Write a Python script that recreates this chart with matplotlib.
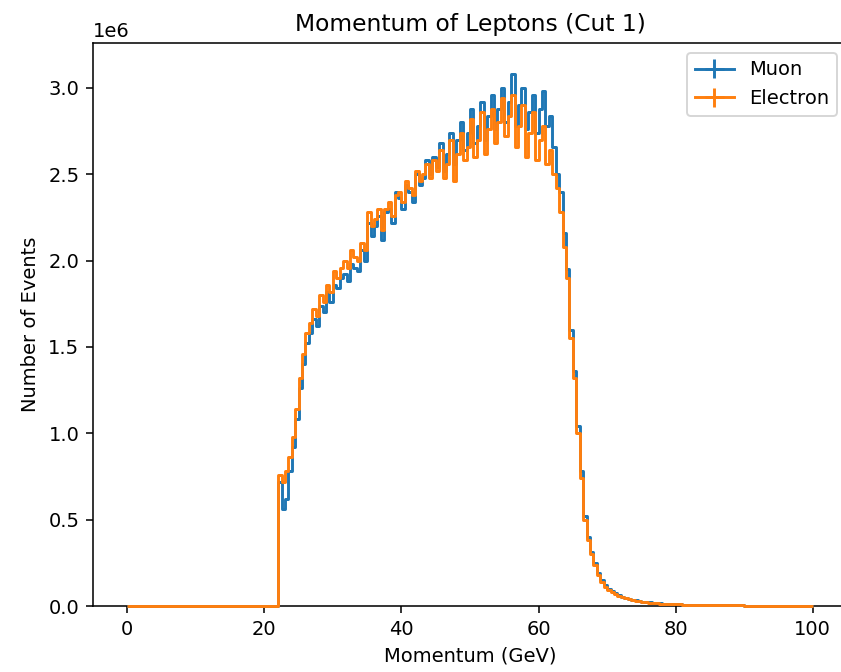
import numpy as np
import matplotlib
matplotlib.use("Agg")
import matplotlib.pyplot as plt

# Bin edges: 0..100 GeV in 0.5 GeV bins
bin_width = 0.5
edges = np.arange(0, 100 + bin_width / 2, bin_width)
centers = (edges[:-1] + edges[1:]) / 2

# Empty bins below 22 GeV (44 bins)
low_zero = [0.0] * 44

# Counts in units of 1e6 for bins 22.0-63.0 GeV
muon_peak = [
    0.72, 0.56, 0.62, 0.78, 0.92, 1.08, 1.26, 1.40, 1.52, 1.58,
    1.66, 1.62, 1.74, 1.70, 1.82, 1.76,
    1.86, 1.84, 1.90, 1.92, 1.88, 1.98, 1.96, 1.94, 2.06, 2.00,
    2.22, 2.14, 2.20, 2.26, 2.12, 2.28, 2.30, 2.22, 2.40, 2.36,
    2.30, 2.44, 2.40, 2.34, 2.50, 2.44, 2.48, 2.58, 2.50, 2.60,
    2.54, 2.68, 2.52, 2.62, 2.74, 2.56, 2.70, 2.80, 2.64, 2.74,
    2.88, 2.68, 2.78, 2.92, 2.70, 2.84, 2.96, 2.76, 2.88, 3.00,
    2.80, 2.92, 3.08, 2.78, 2.90, 3.00, 2.76, 2.86, 2.96, 2.74,
    2.88, 2.98, 2.78, 2.84, 2.66, 2.50,
]
electron_peak = [
    0.76, 0.72, 0.78, 0.86, 0.98, 1.14, 1.32, 1.46, 1.58, 1.64,
    1.72, 1.68, 1.80, 1.76, 1.86, 1.82,
    1.94, 1.90, 1.96, 2.00, 1.96, 2.06, 2.02, 2.00, 2.10, 2.06,
    2.28, 2.20, 2.24, 2.30, 2.18, 2.30, 2.34, 2.26, 2.38, 2.40,
    2.34, 2.46, 2.42, 2.38, 2.52, 2.46, 2.50, 2.56, 2.48, 2.58,
    2.52, 2.64, 2.48, 2.56, 2.70, 2.46, 2.62, 2.74, 2.58, 2.66,
    2.82, 2.60, 2.70, 2.86, 2.62, 2.76, 2.88, 2.68, 2.80, 2.94,
    2.72, 2.84, 2.96, 2.66, 2.78, 2.90, 2.60, 2.74, 2.86, 2.58,
    2.70, 2.78, 2.56, 2.64, 2.50, 2.42,
]

# Falling edge and tail, 63.0-80.0 GeV
muon_tail = [
    2.40, 2.16, 1.95, 1.60, 1.36, 1.04, 0.78, 0.52, 0.40, 0.31,
    0.25, 0.19, 0.15, 0.12, 0.10, 0.085, 0.075, 0.065, 0.055, 0.048,
    0.042, 0.037, 0.033, 0.029, 0.026, 0.023, 0.021, 0.019, 0.017, 0.015,
    0.014, 0.013, 0.012, 0.011,
]
electron_tail = [
    2.28, 2.08, 1.90, 1.55, 1.32, 1.00, 0.74, 0.50, 0.38, 0.30,
    0.24, 0.18, 0.14, 0.11, 0.09, 0.08, 0.07, 0.06, 0.05, 0.045,
    0.04, 0.035, 0.03, 0.027, 0.024, 0.021, 0.019, 0.017, 0.015, 0.014,
    0.013, 0.012, 0.011, 0.010,
]

# Far tail 80-100 GeV (same for both)
far_tail = [
    0.0095, 0.009, 0.0085, 0.008, 0.0075, 0.007, 0.0066, 0.0062, 0.0058, 0.0055,
    0.0052, 0.0049, 0.0046, 0.0043, 0.004, 0.0037, 0.0035, 0.0033, 0.0031, 0.0029,
    0.0027, 0.0025, 0.0024, 0.0023, 0.0022, 0.0021, 0.002, 0.0019, 0.0018, 0.0017,
    0.0016, 0.0015, 0.0014, 0.0013, 0.0012, 0.0011, 0.001, 0.001, 0.0009, 0.0009,
]

muon = np.array(low_zero + muon_peak + muon_tail + far_tail) * 1e6
electron = np.array(low_zero + electron_peak + electron_tail + far_tail) * 1e6

dpi = 140
fig = plt.figure(figsize=(841 / dpi, 672 / dpi), dpi=dpi)
ax = fig.add_axes([93 / 841, 66 / 672, 754 / 841, 563 / 672])

containers = []
containers.append(ax.errorbar(centers, muon, xerr=bin_width / 2, yerr=np.sqrt(muon),
                              drawstyle="steps-mid", label="Muon", zorder=3))
containers.append(ax.errorbar(centers, electron, xerr=bin_width / 2, yerr=np.sqrt(electron),
                              drawstyle="steps-mid", label="Electron", zorder=3))
for cont in containers:
    for art in cont.get_children():
        if art is not None:
            art.set_clip_on(False)

ax.set_xlim(-5, 105)
ax.set_ylim(0, 3.26e6)
ax.set_title("Momentum of Leptons (Cut 1)")
ax.set_xlabel("Momentum (GeV)")
ax.set_ylabel("Number of Events")
ax.legend(loc="upper right")

fig.savefig("out.png", dpi=dpi)
